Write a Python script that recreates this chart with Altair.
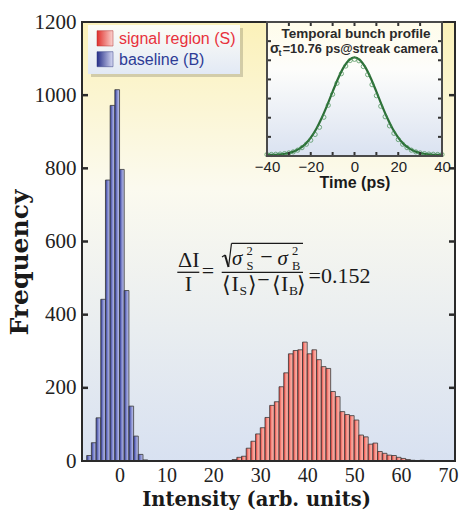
import altair as alt
import pandas as pd

# ---------------- data ----------------
blue_lo = [-7, -6, -5, -4, -3, -2, -1, 0, 1, 2, 3, 4, 5]
blue_count = [15, 50, 118, 442, 768, 972, 1015, 797, 466, 150, 68, 18, 3]

red_lo = [23, 24, 25, 26, 27, 28, 29, 30, 31, 32, 33, 34, 35, 36, 37, 38, 39, 40, 41, 42, 43,
          44, 45, 46, 47, 48, 49, 50, 51, 52, 53, 54, 55, 56, 57, 58, 59, 60, 61, 62, 63, 64]
red_count = [1, 4, 10, 13, 35, 54, 74, 91, 119, 152, 162, 203, 241, 293, 302, 304, 325, 293, 304, 277, 258,
             253, 190, 176, 135, 127, 124, 112, 71, 66, 46, 49, 26, 21, 16, 15, 10, 7, 4, 2, 1, 2]

x_ticks = [0, 10, 20, 30, 40, 50, 60, 70]
y_ticks = [0, 200, 400, 600, 800, 1000, 1200]
y_inner_ticks = [200, 400, 600, 800, 1000]

# inset: temporal bunch profile
fit_t = [-40, -37.5, -35, -32.5, -30, -27.5, -25, -22.5, -20, -17.5, -15, -12.5, -10, -7.5, -5, -2.5, 0,
         2.5, 5, 7.5, 10, 12.5, 15, 17.5, 20, 22.5, 25, 27.5, 30, 32.5, 35, 37.5, 40]
fit_v = [0.011, 0.012, 0.015, 0.021, 0.031, 0.049, 0.079, 0.124, 0.192, 0.282, 0.397, 0.529, 0.672, 0.810, 0.926, 1.002, 1.03,
         1.002, 0.926, 0.810, 0.672, 0.529, 0.397, 0.282, 0.192, 0.124, 0.079, 0.049, 0.031, 0.021, 0.015, 0.012, 0.011]
pts_t = [-40, -38, -36, -34, -32, -30, -28, -26, -24, -22, -20, -18, -16, -14, -12, -10, -8, -6, -4, -2, 0,
         2, 4, 6, 8, 10, 12, 14, 16, 18, 20, 22, 24, 26, 28, 30, 32, 34, 36, 38, 40]
pts_v = [0.015, 0.016, 0.018, 0.020, 0.025, 0.032, 0.043, 0.061, 0.087, 0.123, 0.165, 0.225, 0.300, 0.405, 0.530, 0.645, 0.760, 0.860, 0.940, 0.998, 1.010,
         0.995, 0.935, 0.850, 0.745, 0.630, 0.520, 0.410, 0.315, 0.237, 0.172, 0.123, 0.087, 0.061, 0.043, 0.032, 0.025, 0.020, 0.018, 0.016, 0.015]
inset_x_ticks = [-30, -20, -10, 0, 10, 20, 30]
inset_x_labels = [-40, -20, 0, 20, 40]
inset_y_ticks = [0.2, 0.4, 0.6, 0.8, 1.0, 1.2]

# ---------------- layout ----------------
W, H = 373, 439
X_DOM = [-8, 71.5]
Y_DOM = [0, 1200]
IX = [185, 360]     # inset pixel range (x)
IY = [134, 0]       # inset pixel range (y)

SERIF = "Liberation Serif"
TITLE_SERIF = "DejaVu Serif"
SANS = "Liberation Sans"

blue_df = pd.DataFrame({"lo": blue_lo, "count": blue_count})
blue_df["hi"] = blue_df["lo"] + 1
red_df = pd.DataFrame({"lo": red_lo, "count": red_count})
red_df["hi"] = red_df["lo"] + 1
one = pd.DataFrame({"a": [0]})


def grad(stops, horizontal=False):
    return alt.LinearGradient(
        gradient="linear",
        stops=[alt.GradientStop(offset=o, color=c) for o, c in stops],
        x1=0, y1=0, x2=1 if horizontal else 0, y2=0 if horizontal else 1,
    )


def vrect(x1, x2, y1, y2, **kw):
    return alt.Chart(one).mark_rect(**kw).encode(
        x=alt.value(x1), x2=alt.value(x2), y=alt.value(y1), y2=alt.value(y2))


def vrule(x1, y1, x2, y2, **kw):
    return alt.Chart(one).mark_rule(**kw).encode(
        x=alt.value(x1), x2=alt.value(x2), y=alt.value(y1), y2=alt.value(y2))


def vtext(s, x, y, size=22, font=SERIF, align="left", baseline="alphabetic", **kw):
    return alt.Chart(one).mark_text(text=s, fontSize=size, font=font, align=align,
                                    baseline=baseline, **kw).encode(
        x=alt.value(x), y=alt.value(y))


def xs():
    return alt.Scale(domain=X_DOM, nice=False, zero=False)


def ys():
    return alt.Scale(domain=Y_DOM, nice=False, zero=False)


def ixs():
    return alt.Scale(domain=[-40, 40], range=IX, nice=False, zero=False)


def iys():
    return alt.Scale(domain=[0, 1.4], range=IY, nice=False, zero=False)


# ---------------- main panel ----------------
bg = vrect(0, W, 0, H, fill=grad([(0, "#fbf1b9"), (0.38, "#fbfaef"), (1, "#d8e1f1")]))

blue = alt.Chart(blue_df).mark_bar(
    fill=grad([(0, "#2b3590"), (0.45, "#7e86cc"), (1, "#c8ccef")], horizontal=True),
    stroke="#3a3a3a", strokeWidth=0.8,
).encode(
    x=alt.X("lo:Q", scale=xs(), axis=alt.Axis(
        orient="bottom", values=x_ticks, format="d", labelFont=SERIF, labelFontSize=20,
        labelColor="#222", labelPadding=4, ticks=False, domain=False, grid=False,
        labelFlush=False,
        title="Intensity (arb. units)", titleFont=TITLE_SERIF, titleFontSize=19.5,
        titleFontWeight="bold", titleColor="#1a1a1a", titleX=174, titleY=44.5,
        titleBaseline="alphabetic", titleAlign="center")),
    x2="hi:Q",
    y=alt.Y("count:Q", scale=ys(), axis=alt.Axis(
        orient="left", values=y_ticks, format="d", labelFont=SERIF, labelFontSize=21,
        labelColor="#222", labelPadding=6, ticks=False, domain=False, grid=False,
        labelFlush=False,
        title="Frequency", titleFont=TITLE_SERIF, titleFontSize=25, titleFontWeight="bold",
        titleColor="#1a1a1a", titleX=-55, titleY=240, titleAngle=270,
        titleBaseline="alphabetic", titleAlign="center")),
    y2=alt.value(H),
)

red = alt.Chart(red_df).mark_bar(
    fill=grad([(0, "#e3352f"), (0.45, "#f6978d"), (1, "#fbbab2")], horizontal=True),
    stroke="#3a3a3a", strokeWidth=0.8,
).encode(
    x=alt.X("lo:Q", scale=xs(), axis=None), x2="hi:Q",
    y=alt.Y("count:Q", scale=ys(), axis=None), y2=alt.value(H),
)

tick_df = pd.DataFrame({"v": y_inner_ticks})
ytick_l = alt.Chart(tick_df).mark_rule(color="#2a2a2a", strokeWidth=2.5).encode(
    y=alt.Y("v:Q", scale=ys(), axis=None), x=alt.value(0), x2=alt.value(6))
ytick_r = alt.Chart(tick_df).mark_rule(color="#2a2a2a", strokeWidth=2.5).encode(
    y=alt.Y("v:Q", scale=ys(), axis=None), x=alt.value(W - 6), x2=alt.value(W))

frame = vrect(0, W, 0, H, fill=None, stroke="#2a2a2a", strokeWidth=2)

# legend
legend = [
    vrect(9, 161, 6, 55, fill="#000000", opacity=0.16),
    vrect(6, 158, 3, 52, fill=grad([(0, "#fdfdf6"), (1, "#e2e9f5")])),
    vrect(15, 31, 8.7, 24, fill=grad([(0, "#e0302c"), (1, "#fbd3cf")], horizontal=True),
          stroke="#b03030", strokeWidth=0.5),
    vrect(15, 31, 29.7, 44.7, fill=grad([(0, "#262f88"), (1, "#d6d9f3")], horizontal=True),
          stroke="#303a80", strokeWidth=0.5),
    vtext("signal region (S)", 37, 16.5, size=16, font=SANS, baseline="middle", color="#e8323c"),
    vtext("baseline (B)", 37, 37.5, size=16, font=SANS, baseline="middle", color="#2e3c96"),
]

# formula
K = "#1a1a1a"
formula = [
    vtext("ΔI", 106.8, 244.7, align="center", color=K),
    vrule(95.3, 250.3, 117.3, 250.3, color=K, strokeWidth=1.3),
    vtext("I", 106.3, 268.7, align="center", color=K),
    vtext("=", 126, 256, align="center", color=K),
    # radical
    vrule(140, 235, 143, 233, color=K, strokeWidth=1.2),
    vrule(143, 233, 146.5, 245, color=K, strokeWidth=2),
    vrule(146.5, 245, 149.5, 221.3, color=K, strokeWidth=1.2),
    vrule(149.5, 221.3, 221, 221.3, color=K, strokeWidth=1.3),
    vtext("σ", 150, 243, size=21, fontStyle="italic", color=K),
    vtext("2", 164.5, 233.3, size=12.5, color=K),
    vtext("S", 164.5, 247.6, size=12.5, color=K),
    vtext("−", 184.5, 242, align="center", color=K),
    vtext("σ", 195.5, 243, size=21, fontStyle="italic", color=K),
    vtext("2", 210, 233.3, size=12.5, color=K),
    vtext("B", 210, 247.6, size=12.5, color=K),
    vrule(139.7, 250.3, 221, 250.3, color=K, strokeWidth=1.3),
    vtext("⟨", 140, 269.5, color=K),
    vtext("I", 149.5, 268.7, color=K),
    vtext("S", 157.5, 273.3, size=13.5, color=K),
    vtext("⟩", 166, 269.5, color=K),
    vtext("−", 181.5, 265, align="center", color=K),
    vtext("⟨", 189.5, 269.5, color=K),
    vtext("I", 199, 268.7, color=K),
    vtext("B", 207, 273.3, size=13.5, color=K),
    vtext("⟩", 215, 269.5, color=K),
    vtext("=0.152", 226.5, 260.5, color=K),
]

# ---------------- inset ----------------
fit_df = pd.DataFrame({"t": fit_t, "v": fit_v})
pts_df = pd.DataFrame({"t": pts_t, "v": pts_v})

ibg = vrect(IX[0], IX[1], IY[1], IY[0], fill=grad([(0, "#fffcea"), (0.35, "#fdfdfb"), (1, "#dae2f1")]))

fit_line = alt.Chart(fit_df).mark_line(color="#2c6e37", strokeWidth=2.2, interpolate="monotone").encode(
    x=alt.X("t:Q", scale=ixs(), axis=alt.Axis(
        orient="bottom", offset=-(H - IY[0]), values=inset_x_labels, labelFont=SANS,
        labelFontSize=15, labelColor="#222", labelPadding=3, ticks=False, domain=False, grid=False,
        labelFlush=False,
        title="Time (ps)", titleFont=SANS, titleFontSize=16, titleFontWeight="bold",
        titleColor="#1a1a1a", titlePadding=0, zindex=2)),
    y=alt.Y("v:Q", scale=iys(), axis=None),
)
points = alt.Chart(pts_df).mark_point(shape="circle", size=18, filled=False, color="#3d8a4c",
                                      strokeWidth=1).encode(
    x=alt.X("t:Q", scale=ixs(), axis=None), y=alt.Y("v:Q", scale=iys(), axis=None))

ixt_df = pd.DataFrame({"t": inset_x_ticks})
iyt_df = pd.DataFrame({"v": inset_y_ticks})
ixt_top = alt.Chart(ixt_df).mark_rule(color="#333", strokeWidth=2).encode(
    x=alt.X("t:Q", scale=ixs(), axis=None), y=alt.value(IY[1]), y2=alt.value(IY[1] + 4))
ixt_bot = alt.Chart(ixt_df).mark_rule(color="#333", strokeWidth=2).encode(
    x=alt.X("t:Q", scale=ixs(), axis=None), y=alt.value(IY[0] - 4), y2=alt.value(IY[0]))
iyt_l = alt.Chart(iyt_df).mark_rule(color="#333", strokeWidth=2).encode(
    y=alt.Y("v:Q", scale=iys(), axis=None), x=alt.value(IX[0]), x2=alt.value(IX[0] + 4))
iyt_r = alt.Chart(iyt_df).mark_rule(color="#333", strokeWidth=2).encode(
    y=alt.Y("v:Q", scale=iys(), axis=None), x=alt.value(IX[1] - 4), x2=alt.value(IX[1]))
iframe = vrect(IX[0], IX[1], IY[1], IY[0], fill=None, stroke="#4a4a4a", strokeWidth=2)

ititle = [
    vtext("Temporal bunch profile", 274, 15.5, size=13.5, font=SANS, align="center",
          fontWeight="bold", color="#2a2a2a"),
    vtext("σ", 188, 31, size=14, font=SANS, fontWeight="bold", color="#2a2a2a"),
    vtext("t", 196.5, 33.5, size=9, font=SANS, fontWeight="bold", color="#2a2a2a"),
    vtext("=10.76 ps@streak camera", 200.7, 31, size=12.7, font=SANS, fontWeight="bold",
          color="#2a2a2a"),
]

chart = alt.layer(
    bg, blue, red, *legend, *formula, ytick_l, ytick_r, frame,
    ibg, fit_line, points, ixt_top, ixt_bot, iyt_l, iyt_r, iframe, *ititle,
).resolve_scale(x="independent", y="independent").resolve_axis(
    x="independent", y="independent"
).properties(
    width=W, height=H,
    padding={"left": 82, "top": 22, "right": 6, "bottom": 50},
    autosize=alt.AutoSizeParams(type="none"),
    background="white",
).configure_view(stroke=None)

chart.save("out.html", embed_options={"renderer": "svg", "actions": False})
